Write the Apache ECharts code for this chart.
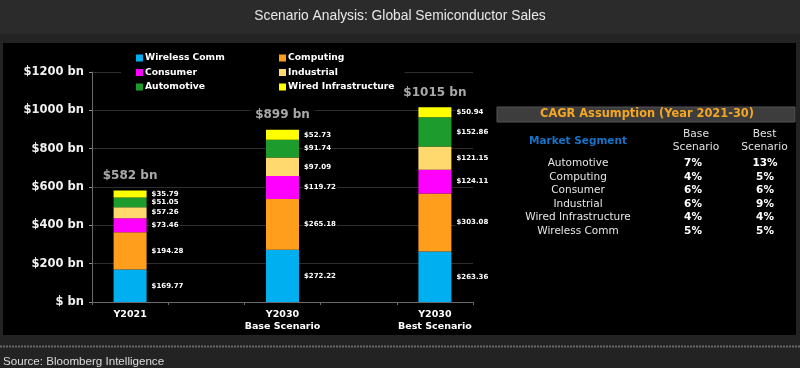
<!DOCTYPE html>
<html>
<head>
<meta charset="utf-8">
<style>
html,body{margin:0;padding:0;background:#222;}
#chart{width:800px;height:368px;}
</style>
<script src="https://cdn.jsdelivr.net/npm/echarts@6/dist/echarts.min.js"></script>
</head>
<body>
<div id="chart"></div>
<script>
// ---- data ----
const categories = ['Y2021', 'Y2030\nBase Scenario', 'Y2030\nBest Scenario'];
const wirelessComm = [169.77, 272.22, 263.36];
const computing    = [194.28, 265.18, 303.08];
const consumer     = [73.46, 119.72, 124.11];
const industrial   = [57.26, 97.09, 121.15];
const automotive   = [51.05, 91.74, 152.86];
const wiredInfra   = [35.79, 52.73, 50.94];
const totals       = [582, 899, 1015];
const yMax = 1200, yInterval = 200;

const segments = ['Automotive', 'Computing', 'Consumer', 'Industrial', 'Wired Infrastructure', 'Wireless Comm'];
const baseCagr = ['7%', '4%', '6%', '6%', '4%', '5%'];
const bestCagr = ['13%', '5%', '6%', '9%', '4%', '5%'];

const seriesDefs = [
  {name: 'Wireless Comm', data: wirelessComm, color: '#00aff0'},
  {name: 'Computing', data: computing, color: '#ff9e1c'},
  {name: 'Consumer', data: consumer, color: '#ff00ff'},
  {name: 'Industrial', data: industrial, color: '#ffd96e'},
  {name: 'Automotive', data: automotive, color: '#1e9b2d'},
  {name: 'Wired Infrastructure', data: wiredInfra, color: '#ffff00'}
];

// spread 3 categories over 5 slots (gaps between bars)
const slots = [];
categories.forEach((c, i) => { slots.push(c); if (i < categories.length - 1) slots.push(''); });
function toSlots(arr) {
  const out = [];
  arr.forEach((v, i) => { out.push(v); if (i < arr.length - 1) out.push(null); });
  return out;
}

const FONT = 'DejaVu Sans';
const chart = echarts.init(document.getElementById('chart'));

const series = seriesDefs.map(s => ({
  name: s.name,
  type: 'bar',
  stack: 'total',
  barWidth: 33,
  data: toSlots(s.data),
  itemStyle: {color: s.color},
  label: {
    show: true,
    position: 'right',
    distance: 4,
    formatter: p => '$' + Number(p.value).toFixed(2),
    color: '#ffffff',
    fontFamily: FONT,
    fontWeight: 'bold',
    fontSize: 7,
    backgroundColor: '#000',
    padding: [0, 1]
  }
}));

series.push({
  name: 'totals',
  type: 'scatter',
  data: toSlots(totals),
  symbolSize: 0,
  silent: true,
  z: 5,
  label: {
    show: true,
    position: 'top',
    distance: 7,
    formatter: p => '$' + p.value + ' bn',
    color: '#d2d2d2',
    fontFamily: FONT,
    fontWeight: 'bold',
    fontSize: 12,
    backgroundColor: '#000',
    padding: [2, 5]
  }
});

// table graphics
const graphic = [
  {type: 'rect', shape: {x: 0, y: 0, width: 800, height: 34}, style: {fill: '#2b2b2b'}, z: -20},
  {type: 'rect', shape: {x: 3, y: 43, width: 793, height: 292}, style: {fill: '#000'}, z: -10},
  {type: 'line', shape: {x1: 0, y1: 346.5, x2: 800, y2: 346.5}, style: {stroke: '#6a6a6a', lineWidth: 2, lineDash: [2, 1]}, z: -10},
  {type: 'text', left: 'center', top: 9, style: {text: 'Scenario Analysis: Global Semiconductor Sales', fill: '#e8e8e8', font: '13.8px "Liberation Sans"'}},
  {type: 'text', left: 3, top: 356, style: {text: 'Source: Bloomberg Intelligence', fill: '#dcdcdc', font: '11.6px "Liberation Sans"'}},
  {type: 'rect', shape: {x: 497, y: 107, width: 298, height: 15}, style: {fill: '#3d3d3d', stroke: '#555', lineWidth: 1}, z: 1},
  {type: 'text', x: 647, y: 114.5, z: 2, style: {text: 'CAGR Assumption (Year 2021-30)', fill: '#f5a623', font: 'bold 11.4px "DejaVu Sans"', align: 'center', verticalAlign: 'middle'}},
  {type: 'text', x: 578, y: 141, z: 2, style: {text: 'Market Segment', fill: '#1673c8', font: 'bold 10.5px "DejaVu Sans"', align: 'center', verticalAlign: 'middle'}},
  {type: 'text', x: 696, y: 141, z: 2, style: {text: 'Base\nScenario', fill: '#e0e0e0', font: '10.7px "DejaVu Sans"', lineHeight: 13, align: 'center', verticalAlign: 'middle'}},
  {type: 'text', x: 764.5, y: 141, z: 2, style: {text: 'Best\nScenario', fill: '#e0e0e0', font: '10.7px "DejaVu Sans"', lineHeight: 13, align: 'center', verticalAlign: 'middle'}}
];
segments.forEach((seg, i) => {
  const y = 163.5 + i * 13.5;
  graphic.push({type: 'text', x: 578, y: y, z: 2, style: {text: seg, fill: '#e6e6e6', font: '10.5px "DejaVu Sans"', align: 'center', verticalAlign: 'middle'}});
  graphic.push({type: 'text', x: 693, y: y, z: 2, style: {text: baseCagr[i], fill: '#ffffff', font: 'bold 10.5px "DejaVu Sans"', align: 'center', verticalAlign: 'middle'}});
  graphic.push({type: 'text', x: 765, y: y, z: 2, style: {text: bestCagr[i], fill: '#ffffff', font: 'bold 10.5px "DejaVu Sans"', align: 'center', verticalAlign: 'middle'}});
});

const legendCommon = {
  orient: 'vertical',
  top: 48,
  itemWidth: 7,
  itemHeight: 7,
  itemGap: 4.5,
  icon: 'rect',
  backgroundColor: '#000',
  z: 4,
  textStyle: {color: '#ffffff', fontFamily: FONT, fontWeight: 'bold', fontSize: 9.2, lineHeight: 10, padding: [0, 0, 0, -3]}
};

chart.setOption({
  backgroundColor: '#232323',
  animation: false,
  graphic: graphic,
  legend: [
    Object.assign({}, legendCommon, {left: 121, padding: [5, 45, 5, 15], data: ['Wireless Comm', 'Consumer', 'Automotive']}),
    Object.assign({}, legendCommon, {left: 264, padding: [5, 10, 5, 15], data: ['Computing', 'Industrial', 'Wired Infrastructure']})
  ],
  grid: {left: 92, right: 327, top: 72, bottom: 66, containLabel: false},
  xAxis: {
    type: 'category',
    data: slots,
    boundaryGap: true,
    axisLine: {lineStyle: {color: '#6a6a6a'}},
    axisTick: {show: true, interval: 0, length: 3, lineStyle: {color: '#6a6a6a'}},
    axisLabel: {interval: 0, margin: 7, color: '#ffffff', fontFamily: FONT, fontWeight: 'bold', fontSize: 9.5, lineHeight: 12}
  },
  yAxis: {
    type: 'value',
    min: 0,
    max: yMax,
    interval: yInterval,
    axisLine: {show: true, lineStyle: {color: '#6a6a6a'}},
    axisTick: {show: true, length: 3, lineStyle: {color: '#8a8a8a'}},
    splitLine: {lineStyle: {color: '#2e2e2e'}},
    axisLabel: {
      margin: 8,
      color: '#f0f0f0',
      fontFamily: FONT,
      fontWeight: 'bold',
      fontSize: 11.5,
      formatter: v => v === 0 ? '$ bn' : '$' + v + ' bn'
    }
  },
  series: series
});
</script>
</body>
</html>
